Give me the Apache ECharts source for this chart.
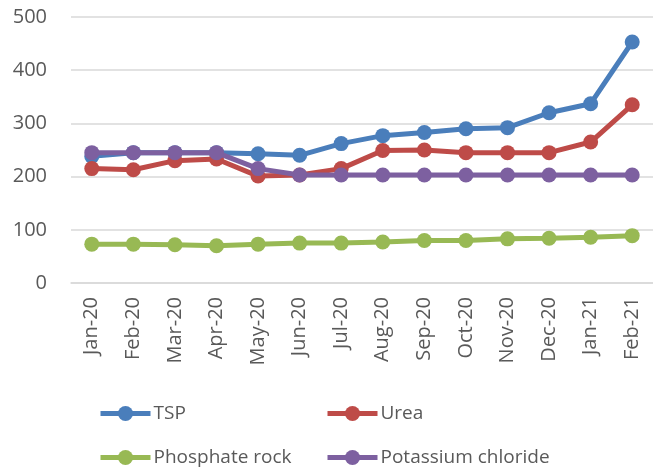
<!DOCTYPE html>
<html>
<head>
<meta charset="utf-8">
<script src="https://cdn.jsdelivr.net/npm/echarts@6/dist/echarts.min.js"></script>
<style>
html,body{margin:0;padding:0;background:#fff;}
#chart{width:653px;height:470px;}
</style>
</head>
<body>
<div id="chart"></div>
<script>
const categories = ["Jan-20","Feb-20","Mar-20","Apr-20","May-20","Jun-20","Jul-20","Aug-20","Sep-20","Oct-20","Nov-20","Dec-20","Jan-21","Feb-21"];
const tsp = [238,245,245,245,243,240,262,277,283,290,292,320,337,453];
const urea = [215,213,230,233,201,203,215,249,250,245,245,245,265,335];
const phosphateRock = [73,73,72,70,73,75,75,77,80,80,83,84,86,89];
const potassiumChloride = [245,245,245,245,215,203,203,203,203,203,203,203,203,203];
const yTicks = [0,100,200,300,400,500];

const FONT = "Open Sans";
const txt = "#595959";
const colors = ["#4A7EBB","#BE4B48","#98B954","#7D60A0"];
const names = ["TSP","Urea","Phosphate rock","Potassium chloride"];
const datas = [tsp, urea, phosphateRock, potassiumChloride];

const chart = echarts.init(document.getElementById('chart'), null, {renderer:'canvas'});
const legendPos = [[98,404],[325,404],[98,448],[325,448]];
chart.setOption({
  animation:false,
  backgroundColor:'#fff',
  textStyle:{fontFamily:FONT},
  grid:{left:71, right:-9, top:17, bottom:187, containLabel:false},
  xAxis:{
    type:'category', data:categories, boundaryGap:true,
    axisLine:{show:true, lineStyle:{color:'#d9d9d9', width:1.5}},
    axisTick:{show:false},
    axisLabel:{rotate:90, margin:14, color:txt, fontSize:20, fontFamily:FONT, interval:0}
  },
  yAxis:{
    type:'value', min:yTicks[0], max:yTicks[yTicks.length-1], interval:100,
    axisLine:{show:false}, axisTick:{show:false},
    splitLine:{lineStyle:{color:'#d9d9d9', width:1.5}},
    axisLabel:{margin:24, color:txt, fontSize:20, fontFamily:FONT}
  },
  legend: names.map((n,i)=>({
    data:[n], left:legendPos[i][0], top:legendPos[i][1], padding:0,
    itemWidth:50, itemHeight:19, itemGap:5,
    lineStyle:{width:5},
    textStyle:{color:txt, fontSize:19, fontFamily:FONT, padding:[0,0,0,-2]}
  })),
  series: names.map((n,i)=>({
    name:n, type:'line', data:datas[i],
    symbol:'circle', symbolSize:15,
    lineStyle:{color:colors[i], width:5},
    itemStyle:{color:colors[i]},
    z:2+i
  }))
});
</script>
</body>
</html>
